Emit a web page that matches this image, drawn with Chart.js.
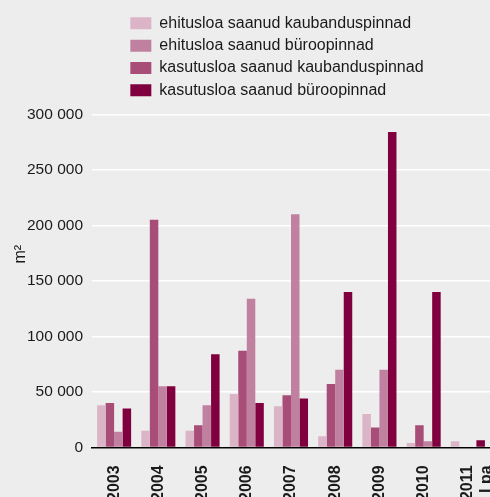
<!DOCTYPE html>
<html>
<head>
<meta charset="utf-8">
<script src="https://cdn.jsdelivr.net/npm/chart.js@4/dist/chart.umd.min.js"></script>
<style>
  html, body { margin: 0; padding: 0; background: #ecedec; overflow: hidden; }
  /* taller than the window: the year labels run off the bottom edge */
  #wrap { width: 490px; height: 519px; }
</style>
</head>
<body>
<div id="wrap"><canvas id="permitChart"></canvas></div>
<script>
// Pinnad aastate kaupa (m2)
const years = ["2003", "2004", "2005", "2006", "2007", "2008", "2009", "2010", ["2011", "I pa"]];
const ehitusKaubandus = [38000, 15000, 15000, 48000, 37000, 10000, 30000, 4000, 5500];
const ehitusBuroo = [14000, 55000, 38000, 134000, 210000, 70000, 70000, 5500, 0];
const kasutusKaubandus = [40000, 205000, 20000, 87000, 47000, 57000, 18000, 20000, 0];
const kasutusBuroo = [35000, 55000, 84000, 40000, 44000, 140000, 284000, 140000, 6500];
const yMax = 300000;
const yStep = 50000;

const textColor = "#1a1a1a";
const fontFamily = "'Liberation Sans', Arial, sans-serif";

// space as thousands separator: 300000 -> "300 000"
function formatThousands(value) {
  return String(value).replace(/\B(?=(\d{3})+(?!\d))/g, " ");
}

// legend rows are left aligned as one block, not centred one by one,
// and sit a little higher than the space kept for them
const legendIndent = {
  id: "legendIndent",
  afterLayout(chart) {
    chart.legend.left = 124;
    chart.legend.top -= 6;
  },
};

const ctx = document.getElementById("permitChart").getContext("2d");
const permitChart = new Chart(ctx, {
  type: "bar",
  data: {
    labels: years,
    // bar order inside a year differs from the legend order
    datasets: [
      {
        label: "ehitusloa saanud kaubanduspinnad",
        data: ehitusKaubandus,
        backgroundColor: "#dbb4c8",
        legendRank: 0,
      },
      {
        label: "kasutusloa saanud kaubanduspinnad",
        data: kasutusKaubandus,
        backgroundColor: "#a84d78",
        legendRank: 2,
      },
      {
        label: "ehitusloa saanud büroopinnad",
        data: ehitusBuroo,
        backgroundColor: "#c080a0",
        legendRank: 1,
      },
      {
        label: "kasutusloa saanud büroopinnad",
        data: kasutusBuroo,
        backgroundColor: "#80003f",
        legendRank: 3,
      },
    ],
  },
  options: {
    responsive: true,
    maintainAspectRatio: false,
    animation: false,
    layout: {
      padding: { top: 15, left: 4, right: 0, bottom: 0 },
    },
    datasets: {
      bar: {
        barPercentage: 1,
        categoryPercentage: 0.77,
      },
    },
    plugins: {
      legend: {
        display: true,
        position: "top",
        align: "start",
        labels: {
          color: textColor,
          boxWidth: 21,
          boxHeight: 12,
          padding: 6.33,
          font: { family: fontFamily, size: 16 },
          sort: (a, b, data) =>
            data.datasets[a.datasetIndex].legendRank - data.datasets[b.datasetIndex].legendRank,
        },
      },
      tooltip: { enabled: false },
    },
    scales: {
      x: {
        grid: { display: false, drawTicks: false },
        border: { display: true, color: "#000000", width: 1.5, z: 1 },
        ticks: {
          color: textColor,
          minRotation: 90,
          maxRotation: 90,
          padding: 18,
          autoSkip: false,
          font: { family: fontFamily, size: 16, weight: "bold" },
        },
        // the two-line last label should not squeeze the categories
        afterFit(scale) {
          scale.paddingLeft = 0;
          scale.paddingRight = 0;
        },
      },
      y: {
        min: 0,
        max: yMax,
        grid: { color: "#ffffff", lineWidth: 1.5, drawTicks: false },
        border: { display: false },
        ticks: {
          stepSize: yStep,
          color: textColor,
          padding: 9,
          font: { family: fontFamily, size: 15.5 },
          callback: (value) => formatThousands(value),
        },
        title: {
          display: true,
          text: "            m²",
          color: textColor,
          padding: { top: 9, bottom: 0 },
          font: { family: fontFamily, size: 16, lineHeight: 1 },
        },
        // fixed axis width so the plot starts where the labels end
        afterFit(scale) {
          scale.width = 88;
        },
      },
    },
  },
  plugins: [legendIndent],
});
</script>
</body>
</html>
